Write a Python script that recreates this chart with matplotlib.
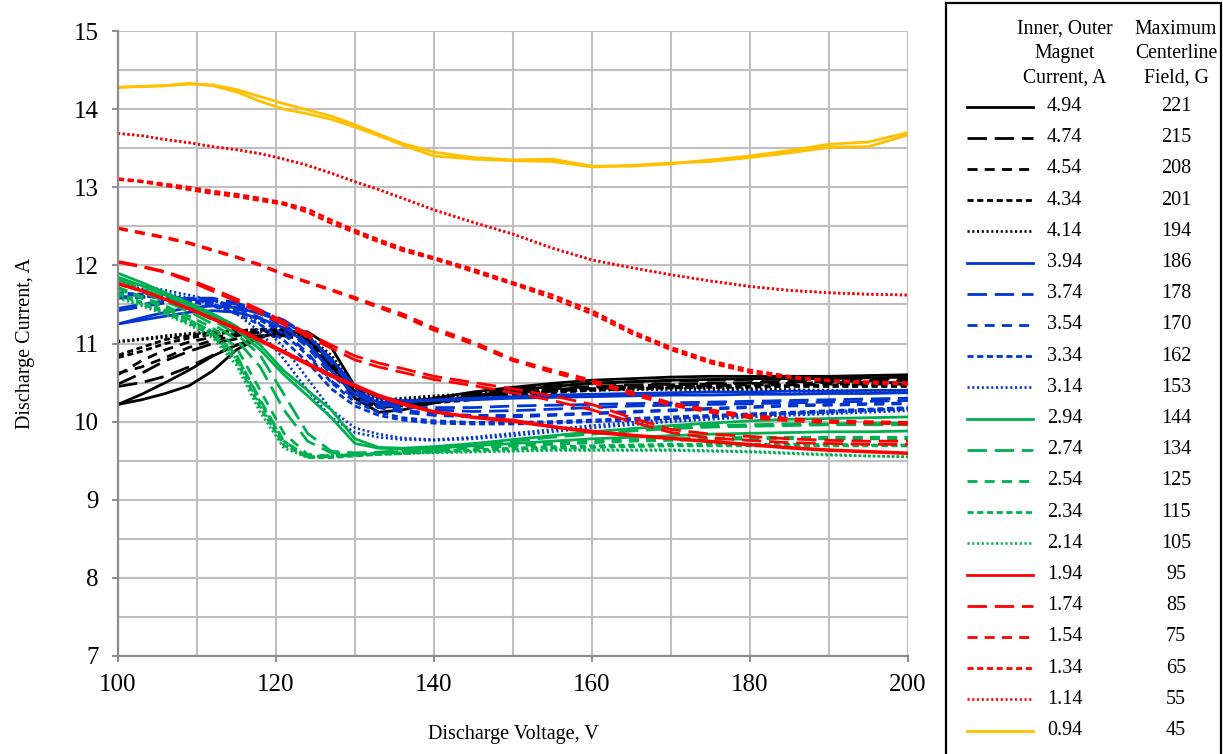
import matplotlib
matplotlib.use("Agg")
import matplotlib.pyplot as plt
from matplotlib.lines import Line2D
from matplotlib.patches import Rectangle
from matplotlib.ticker import MultipleLocator

plt.rcParams["font.family"] = ["Liberation Serif", "DejaVu Serif"]

# ---------------------------------------------------------------------------
# Data: discharge current (A) vs discharge voltage (V), two sweeps per setting
# ---------------------------------------------------------------------------
VOLTS = [100, 103, 106, 109, 112, 115, 118, 121, 124, 127, 130, 133, 136,
         140, 145, 150, 155, 160, 165, 170, 175, 180, 185, 190, 195, 200]

MAGNET_CURRENT = ["4.94", "4.74", "4.54", "4.34", "4.14",
                  "3.94", "3.74", "3.54", "3.34", "3.14",
                  "2.94", "2.74", "2.54", "2.34", "2.14",
                  "1.94", "1.74", "1.54", "1.34", "1.14", "0.94"]
CENTERLINE_FIELD = ["221", "215", "208", "201", "194",
                    "186", "178", "170", "162", "153",
                    "144", "134", "125", "115", "105",
                    "95", "85", "75", "65", "55", "45"]

I494_A = [10.22, 10.35, 10.50, 10.66, 10.84, 10.98, 11.08, 11.15, 11.15, 10.95, 10.45, 10.18, 10.22,
          10.30, 10.38, 10.44, 10.49, 10.53, 10.55, 10.57, 10.58, 10.58, 10.58, 10.58, 10.59, 10.60]
I494_B = [10.22, 10.28, 10.36, 10.46, 10.65, 10.92, 11.08, 11.18, 11.10, 10.75, 10.30, 10.12, 10.15,
          10.24, 10.33, 10.40, 10.45, 10.49, 10.51, 10.53, 10.54, 10.55, 10.55, 10.55, 10.56, 10.57]
I474_A = [10.48, 10.62, 10.78, 10.90, 11.00, 11.06, 11.10, 11.12, 11.05, 10.80, 10.40, 10.22, 10.25,
          10.30, 10.36, 10.42, 10.46, 10.49, 10.51, 10.52, 10.53, 10.54, 10.54, 10.54, 10.55, 10.55]
I474_B = [10.45, 10.50, 10.58, 10.70, 10.85, 10.98, 11.08, 11.10, 11.00, 10.70, 10.30, 10.18, 10.20,
          10.26, 10.32, 10.38, 10.42, 10.45, 10.47, 10.48, 10.49, 10.50, 10.51, 10.51, 10.52, 10.52]
I454_A = [10.60, 10.78, 10.92, 11.02, 11.08, 11.12, 11.15, 11.15, 11.05, 10.75, 10.35, 10.20, 10.22,
          10.27, 10.32, 10.37, 10.41, 10.44, 10.46, 10.47, 10.48, 10.49, 10.49, 10.50, 10.50, 10.50]
I454_B = [10.62, 10.70, 10.82, 10.95, 11.04, 11.10, 11.14, 11.12, 11.00, 10.68, 10.30, 10.18, 10.20,
          10.25, 10.30, 10.35, 10.39, 10.42, 10.44, 10.45, 10.46, 10.47, 10.47, 10.48, 10.48, 10.48]
I434_A = [10.85, 10.95, 11.05, 11.10, 11.14, 11.16, 11.18, 11.18, 11.10, 10.80, 10.38, 10.22, 10.22,
          10.26, 10.30, 10.35, 10.39, 10.42, 10.44, 10.45, 10.46, 10.46, 10.46, 10.47, 10.47, 10.47]
I434_B = [10.82, 10.90, 11.00, 11.07, 11.12, 11.15, 11.17, 11.16, 11.05, 10.72, 10.32, 10.20, 10.21,
          10.24, 10.28, 10.33, 10.37, 10.40, 10.42, 10.43, 10.44, 10.44, 10.45, 10.45, 10.45, 10.45]
I414_A = [11.03, 11.06, 11.10, 11.13, 11.15, 11.17, 11.18, 11.17, 11.10, 10.85, 10.45, 10.28, 10.30,
          10.33, 10.36, 10.39, 10.41, 10.42, 10.43, 10.43, 10.43, 10.42, 10.41, 10.40, 10.39, 10.38]
I414_B = [11.02, 11.05, 11.08, 11.12, 11.14, 11.16, 11.17, 11.15, 11.06, 10.80, 10.40, 10.26, 10.28,
          10.31, 10.34, 10.37, 10.39, 10.40, 10.41, 10.41, 10.41, 10.40, 10.39, 10.38, 10.38, 10.37]

I394_A = [11.25, 11.30, 11.35, 11.40, 11.42, 11.40, 11.32, 11.20, 11.00, 10.65, 10.35, 10.25, 10.25,
          10.27, 10.28, 10.30, 10.31, 10.32, 10.33, 10.34, 10.34, 10.35, 10.35, 10.36, 10.36, 10.37]
I394_B = [11.25, 11.33, 11.40, 11.46, 11.48, 11.46, 11.38, 11.28, 11.10, 10.80, 10.45, 10.30, 10.27,
          10.28, 10.30, 10.32, 10.34, 10.35, 10.36, 10.37, 10.38, 10.38, 10.39, 10.39, 10.40, 10.40]
I374_A = [11.42, 11.47, 11.52, 11.55, 11.55, 11.50, 11.40, 11.25, 11.00, 10.65, 10.35, 10.22, 10.18,
          10.18, 10.18, 10.20, 10.21, 10.22, 10.23, 10.24, 10.25, 10.26, 10.27, 10.28, 10.29, 10.30]
I374_B = [11.45, 11.50, 11.55, 11.58, 11.58, 11.52, 11.42, 11.30, 11.10, 10.75, 10.40, 10.25, 10.20,
          10.15, 10.13, 10.14, 10.16, 10.18, 10.20, 10.21, 10.22, 10.23, 10.24, 10.25, 10.26, 10.27]
I354_A = [11.60, 11.60, 11.60, 11.58, 11.55, 11.48, 11.38, 11.22, 10.95, 10.60, 10.35, 10.22, 10.15,
          10.10, 10.08, 10.08, 10.09, 10.11, 10.13, 10.15, 10.17, 10.19, 10.21, 10.22, 10.23, 10.24]
I354_B = [11.58, 11.59, 11.59, 11.57, 11.53, 11.45, 11.33, 11.15, 10.88, 10.52, 10.30, 10.18, 10.12,
          10.08, 10.06, 10.06, 10.08, 10.10, 10.12, 10.14, 10.16, 10.18, 10.20, 10.21, 10.22, 10.23]
I334_A = [11.65, 11.63, 11.60, 11.56, 11.50, 11.42, 11.30, 11.12, 10.85, 10.50, 10.25, 10.12, 10.05,
          10.01, 9.99, 9.99, 10.00, 10.02, 10.04, 10.06, 10.08, 10.10, 10.12, 10.14, 10.16, 10.18]
I334_B = [11.63, 11.61, 11.58, 11.54, 11.48, 11.38, 11.24, 11.04, 10.76, 10.42, 10.20, 10.08, 10.02,
          9.98, 9.97, 9.97, 9.98, 10.00, 10.02, 10.04, 10.06, 10.08, 10.10, 10.12, 10.14, 10.16]
I314_A = [11.78, 11.74, 11.68, 11.62, 11.55, 11.45, 11.25, 10.95, 10.55, 10.15, 9.92, 9.84, 9.79,
          9.77, 9.80, 9.85, 9.90, 9.95, 9.99, 10.03, 10.06, 10.09, 10.11, 10.13, 10.15, 10.17]
I314_B = [11.75, 11.70, 11.64, 11.58, 11.50, 11.38, 11.15, 10.80, 10.40, 10.05, 9.86, 9.80, 9.77,
          9.76, 9.78, 9.82, 9.87, 9.92, 9.96, 10.00, 10.03, 10.06, 10.08, 10.10, 10.12, 10.14]

I294_A = [11.90, 11.78, 11.65, 11.52, 11.38, 11.22, 10.98, 10.65, 10.40, 10.15, 9.78, 9.67, 9.66,
          9.68, 9.72, 9.77, 9.82, 9.87, 9.91, 9.95, 9.98, 10.01, 10.03, 10.04, 10.05, 10.06]
I294_B = [11.85, 11.74, 11.62, 11.49, 11.35, 11.18, 10.92, 10.60, 10.33, 10.05, 9.72, 9.66, 9.65,
          9.66, 9.69, 9.72, 9.75, 9.78, 9.80, 9.82, 9.84, 9.85, 9.86, 9.87, 9.87, 9.88]
I274_A = [11.82, 11.70, 11.58, 11.45, 11.30, 11.12, 10.85, 10.35, 9.85, 9.62, 9.60, 9.61, 9.63,
          9.66, 9.71, 9.76, 9.81, 9.86, 9.90, 9.93, 9.95, 9.96, 9.97, 9.97, 9.98, 9.98]
I274_B = [11.78, 11.66, 11.54, 11.41, 11.25, 11.05, 10.70, 10.15, 9.75, 9.60, 9.58, 9.60, 9.62,
          9.65, 9.70, 9.75, 9.80, 9.84, 9.88, 9.91, 9.93, 9.94, 9.95, 9.96, 9.96, 9.96]
I254_A = [11.72, 11.60, 11.48, 11.35, 11.20, 10.95, 10.40, 9.85, 9.58, 9.56, 9.58, 9.60, 9.62,
          9.64, 9.67, 9.70, 9.73, 9.75, 9.77, 9.78, 9.79, 9.80, 9.80, 9.80, 9.80, 9.80]
I254_B = [11.70, 11.58, 11.45, 11.31, 11.14, 10.85, 10.28, 9.75, 9.55, 9.55, 9.57, 9.59, 9.61,
          9.63, 9.66, 9.69, 9.71, 9.73, 9.75, 9.76, 9.77, 9.78, 9.78, 9.78, 9.78, 9.78]
I234_A = [11.65, 11.53, 11.42, 11.30, 11.15, 10.85, 10.25, 9.75, 9.55, 9.55, 9.57, 9.59, 9.60,
          9.62, 9.64, 9.66, 9.68, 9.69, 9.70, 9.71, 9.71, 9.71, 9.71, 9.71, 9.70, 9.70]
I234_B = [11.63, 11.51, 11.39, 11.26, 11.10, 10.78, 10.18, 9.70, 9.54, 9.54, 9.56, 9.58, 9.59,
          9.61, 9.63, 9.65, 9.66, 9.67, 9.68, 9.69, 9.69, 9.69, 9.69, 9.69, 9.69, 9.69]
I214_A = [11.60, 11.50, 11.40, 11.28, 11.12, 10.80, 10.20, 9.70, 9.55, 9.57, 9.58, 9.59, 9.60,
          9.61, 9.62, 9.63, 9.64, 9.64, 9.64, 9.64, 9.63, 9.62, 9.60, 9.58, 9.56, 9.55]
I214_B = [11.58, 11.48, 11.37, 11.24, 11.07, 10.72, 10.12, 9.66, 9.54, 9.56, 9.57, 9.58, 9.59,
          9.60, 9.61, 9.62, 9.63, 9.63, 9.63, 9.63, 9.62, 9.61, 9.59, 9.57, 9.56, 9.55]

I194_A = [11.77, 11.68, 11.57, 11.45, 11.32, 11.20, 11.05, 10.90, 10.75, 10.60, 10.47, 10.34, 10.24,
          10.13, 10.06, 10.02, 9.94, 9.88, 9.83, 9.79, 9.75, 9.71, 9.67, 9.64, 9.62, 9.60]
I194_B = [11.76, 11.67, 11.56, 11.44, 11.31, 11.18, 11.03, 10.88, 10.73, 10.58, 10.45, 10.32, 10.22,
          10.12, 10.05, 10.00, 9.93, 9.86, 9.82, 9.78, 9.74, 9.70, 9.66, 9.63, 9.61, 9.59]
I174_A = [12.05, 11.99, 11.92, 11.82, 11.70, 11.57, 11.43, 11.28, 11.13, 10.98, 10.84, 10.75, 10.68,
          10.58, 10.50, 10.42, 10.33, 10.22, 10.05, 9.90, 9.84, 9.81, 9.78, 9.76, 9.75, 9.75]
I174_B = [12.04, 11.98, 11.91, 11.80, 11.67, 11.54, 11.39, 11.24, 11.09, 10.94, 10.79, 10.70, 10.63,
          10.54, 10.46, 10.37, 10.27, 10.15, 10.00, 9.86, 9.79, 9.76, 9.73, 9.72, 9.71, 9.71]
I154_A = [12.48, 12.42, 12.36, 12.29, 12.20, 12.11, 12.01, 11.89, 11.79, 11.69, 11.59, 11.48, 11.38,
          11.20, 11.02, 10.80, 10.66, 10.53, 10.38, 10.24, 10.15, 10.08, 10.04, 10.01, 10.00, 9.99]
I154_B = [12.47, 12.41, 12.35, 12.28, 12.19, 12.10, 12.00, 11.88, 11.78, 11.68, 11.57, 11.46, 11.35,
          11.17, 10.99, 10.78, 10.63, 10.50, 10.35, 10.21, 10.12, 10.05, 10.01, 9.99, 9.98, 9.97]
I134_A = [13.11, 13.08, 13.04, 13.00, 12.95, 12.91, 12.86, 12.80, 12.72, 12.58, 12.45, 12.33, 12.22,
          12.10, 11.95, 11.78, 11.62, 11.42, 11.16, 10.95, 10.78, 10.66, 10.58, 10.53, 10.51, 10.50]
I134_B = [13.10, 13.07, 13.02, 12.97, 12.92, 12.88, 12.83, 12.78, 12.68, 12.54, 12.42, 12.30, 12.19,
          12.08, 11.92, 11.76, 11.58, 11.38, 11.13, 10.92, 10.75, 10.63, 10.56, 10.52, 10.49, 10.48]
I114_A = [13.69, 13.66, 13.61, 13.57, 13.52, 13.48, 13.43, 13.36, 13.28, 13.18, 13.07, 12.97, 12.86,
          12.71, 12.55, 12.40, 12.22, 12.07, 11.97, 11.88, 11.80, 11.73, 11.68, 11.65, 11.63, 11.62]
I114_B = [13.69, 13.66, 13.61, 13.57, 13.52, 13.48, 13.43, 13.36, 13.28, 13.18, 13.07, 12.97, 12.86,
          12.71, 12.55, 12.40, 12.22, 12.07, 11.97, 11.88, 11.80, 11.73, 11.68, 11.65, 11.63, 11.62]
I094_A = [14.28, 14.29, 14.30, 14.32, 14.31, 14.25, 14.16, 14.07, 13.99, 13.91, 13.80, 13.68, 13.56,
          13.45, 13.38, 13.35, 13.36, 13.27, 13.27, 13.30, 13.35, 13.40, 13.47, 13.55, 13.58, 13.70]
I094_B = [14.28, 14.29, 14.30, 14.33, 14.30, 14.22, 14.10, 14.00, 13.94, 13.87, 13.77, 13.66, 13.54,
          13.40, 13.36, 13.34, 13.33, 13.26, 13.28, 13.31, 13.33, 13.38, 13.44, 13.51, 13.52, 13.67]

SWEEPS = [
    (I494_A, I494_B), (I474_A, I474_B), (I454_A, I454_B), (I434_A, I434_B), (I414_A, I414_B),
    (I394_A, I394_B), (I374_A, I374_B), (I354_A, I354_B), (I334_A, I334_B), (I314_A, I314_B),
    (I294_A, I294_B), (I274_A, I274_B), (I254_A, I254_B), (I234_A, I234_B), (I214_A, I214_B),
    (I194_A, I194_B), (I174_A, I174_B), (I154_A, I154_B), (I134_A, I134_B), (I114_A, I114_B),
    (I094_A, I094_B),
]

# ---------------------------------------------------------------------------
# Styles
# ---------------------------------------------------------------------------
BLACK, BLUE, GREEN, RED, GOLD = "#000000", "#0035D0", "#00B050", "#FF0000", "#FFC000"
GROUP_COLORS = [BLACK] * 5 + [BLUE] * 5 + [GREEN] * 5 + [RED] * 5 + [GOLD]

DASHES = [
    ("-", 2.0),                  # solid
    ((0, (7.0, 2.8)), 2.0),      # long dash
    ((0, (3.6, 2.6)), 2.0),      # dash
    ((0, (2.2, 1.3)), 2.0),      # short dash
    ((0, (0.8, 1.0)), 1.9),      # dot
]


def style_for(i):
    if i == 20:
        return DASHES[0]
    return DASHES[i % 5]


W, H = 1223, 754
fig = plt.figure(figsize=(W / 100, H / 100), dpi=100)
ax = fig.add_axes([118 / W, 1 - 656 / H, (908 - 118) / W, (656 - 31) / H])

for i, (sw_a, sw_b) in enumerate(SWEEPS):
    ls, lw = style_for(i)
    for sweep in (sw_a, sw_b):
        ax.plot(VOLTS, sweep, color=GROUP_COLORS[i], linestyle=ls, linewidth=lw,
                dash_capstyle="butt", solid_capstyle="round")

ax.set_xlim(100, 200)
ax.set_ylim(7, 15)
ax.xaxis.set_major_locator(MultipleLocator(20))
ax.xaxis.set_minor_locator(MultipleLocator(10))
ax.yaxis.set_major_locator(MultipleLocator(1))
ax.yaxis.set_minor_locator(MultipleLocator(0.5))

grid_kw = dict(color="#BFBFBF", linewidth=1.5)
ax.grid(True, which="both", **grid_kw)
ax.set_axisbelow(True)

for side in ("top", "right"):
    ax.spines[side].set_visible(False)
for side in ("left", "bottom"):
    ax.spines[side].set_color("#8C8C8C")
    ax.spines[side].set_linewidth(1.6)

ax.tick_params(which="major", direction="out", length=4, width=1.4, color="#8C8C8C",
               labelsize=18, labelcolor="#000000")
ax.tick_params(axis="x", which="major", pad=9)
ax.tick_params(axis="y", which="major", pad=10)
ax.tick_params(which="minor", length=0)

ax.set_xlabel("Discharge Voltage, V", fontsize=14.5, labelpad=21)
ax.set_ylabel("Discharge Current, A", fontsize=14.5, labelpad=28)


# ---------------------------------------------------------------------------
# Legend table drawn at figure level (pixel helpers)
# ---------------------------------------------------------------------------
def fx(x):
    return x / W


def fy(y):
    return 1 - y / H


fig.add_artist(Rectangle((fx(946), fy(760)), fx(1221) - fx(946), fy(3) - fy(760),
                         transform=fig.transFigure, fill=False, edgecolor="black",
                         linewidth=1.6))

hdr_kw = dict(transform=fig.transFigure, fontsize=14.2, ha="center", va="center")
for k, (left, right) in enumerate([("Inner, Outer", "Maximum"),
                                   ("Magnet", "Centerline"),
                                   ("Current, A", "Field, G")]):
    y = 29 + k * 24.5
    fig.text(fx(1065), fy(y), left, **hdr_kw)
    fig.text(fx(1176), fy(y), right, **hdr_kw)

row0, step = 106.5, 31.2
for i, (cur, fld) in enumerate(zip(MAGNET_CURRENT, CENTERLINE_FIELD)):
    y = row0 + i * step
    ls, lw = style_for(i)
    fig.add_artist(Line2D([fx(967), fx(1033)], [fy(y), fy(y)], transform=fig.transFigure,
                          color=GROUP_COLORS[i], linestyle=ls, linewidth=lw,
                          dash_capstyle="butt"))
    fig.text(fx(1047), fy(y), cur, transform=fig.transFigure, fontsize=14.5,
             ha="left", va="center")
    fig.text(fx(1176), fy(y), fld, transform=fig.transFigure, fontsize=14.5,
             ha="center", va="center")

fig.savefig("out.png", dpi=100)
